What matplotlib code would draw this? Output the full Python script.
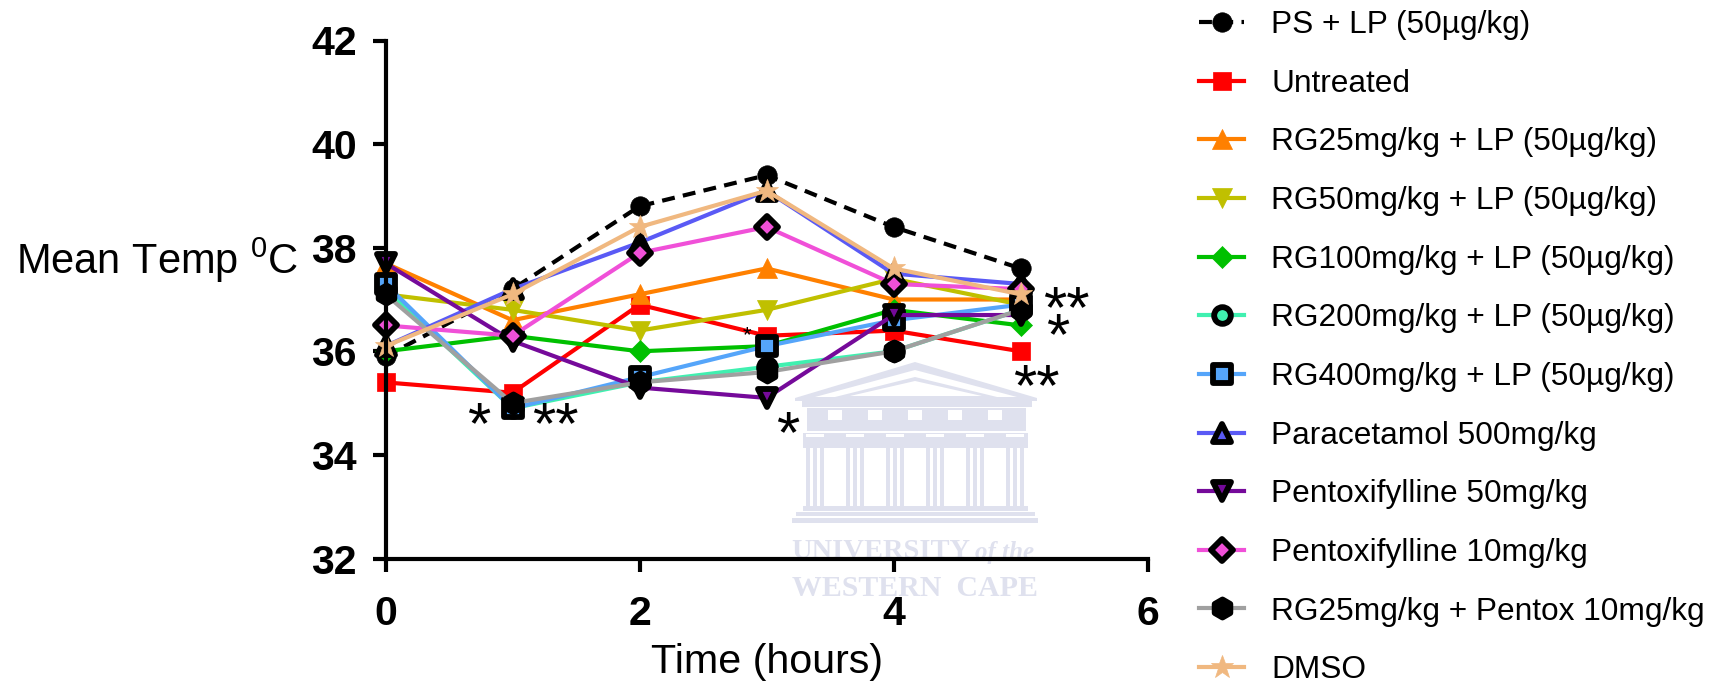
from matplotlib import pyplot as plt
from matplotlib.markers import MarkerStyle
from matplotlib.patches import Polygon, Rectangle

plt.rcParams['font.family'] = ['Liberation Sans', 'DejaVu Sans']
plt.rcParams['mathtext.fontset'] = 'custom'
plt.rcParams['mathtext.rm'] = 'Liberation Sans'

W, H = 1717, 688

hours = [0, 1, 2, 3, 4, 5]
ps_lp = [35.9, 37.2, 38.8, 39.4, 38.4, 37.6]
untreated = [35.4, 35.2, 36.9, 36.3, 36.4, 36.0]
rg25 = [37.7, 36.6, 37.1, 37.6, 37.0, 37.0]
rg50 = [37.1, 36.8, 36.4, 36.8, 37.4, 36.9]
rg100 = [36.0, 36.3, 36.0, 36.1, 36.8, 36.5]
rg200 = [37.2, 34.9, 35.4, 35.7, 36.0, 36.8]
rg400 = [37.3, 34.9, 35.5, 36.1, 36.6, 36.9]
paracetamol = [36.1, 37.2, 38.1, 39.1, 37.5, 37.3]
pentox50 = [37.7, 36.2, 35.3, 35.1, 36.7, 36.7]
pentox10 = [36.5, 36.3, 37.9, 38.4, 37.3, 37.2]
rg25_pentox = [37.1, 35.0, 35.4, 35.6, 36.0, 36.8]
dmso = [36.1, 37.1, 38.4, 39.1, 37.6, 37.1]

# label, values, line colour, marker, marker size, face, edge
series = [
    ("PS + LP (50\u00b5g/kg)", ps_lp, "black", "o", 14, "black", "black"),
    ("Untreated", untreated, "#ff0000", "s", 13, "#ff0000", "#ff0000"),
    ("RG25mg/kg + LP (50\u00b5g/kg)", rg25, "#ff8000", "^", 14, "#ff8000", "#ff8000"),
    ("RG50mg/kg + LP (50\u00b5g/kg)", rg50, "#c0c000", "v", 14, "#c0c000", "#c0c000"),
    ("RG100mg/kg + LP (50\u00b5g/kg)", rg100, "#00c000", "D", 11.5, "#00c000", "#00c000"),
    ("RG200mg/kg + LP (50\u00b5g/kg)", rg200, "#40f0b0", "o", 12, "#40f0b0", "black"),
    ("RG400mg/kg + LP (50\u00b5g/kg)", rg400, "#55a5fa", "s", 12.5, "#55a5fa", "black"),
    ("Paracetamol 500mg/kg", paracetamol, "#5a5af5", "^", 13, "#5a5af5", "black"),
    ("Pentoxifylline 50mg/kg", pentox50, "#750a9a", "v", 13, "#750a9a", "black"),
    ("Pentoxifylline 10mg/kg", pentox10, "#f050d8", "D", 11, "#f050d8", "black"),
    ("RG25mg/kg + Pentox 10mg/kg", rg25_pentox, "#a0a0a0", "h", 13, "black", "black"),
    ("DMSO", dmso, "#f0b880", "*", 17, "#f0b880", "#f0b880"),
]

# text, x, y in data units, font size
stars = [
    ("*", 0.73, 34.52, 43),
    ("**", 1.34, 34.52, 43),
    ("*", 2.85, 36.3, 16),
    ("*", 3.17, 34.35, 43),
    ("**", 5.36, 36.77, 43),
    ("*", 5.29, 36.24, 43),
    ("**", 5.12, 35.26, 43),
]

fig = plt.figure(figsize=(W / 100, H / 100), dpi=100)

# faint crest behind the plot, laid out in pixels
bg = fig.add_axes([0, 0, 1, 1], zorder=0)
bg.set_xlim(0, W)
bg.set_ylim(H, 0)
bg.axis("off")
crest = "#dfe1ee"


def box(x0, y0, x1, y1, color=crest):
    bg.add_patch(Rectangle((x0, y0), x1 - x0, y1 - y0, fc=color, ec="none"))


bg.add_patch(Polygon([(795, 398), (915, 362), (1037, 398), (1037, 401), (795, 401)], fc=crest, ec="none"))
bg.add_patch(Polygon([(815, 397), (915, 370), (1017, 397)], fc="white", ec="none"))
bg.add_patch(Polygon([(835, 397), (915, 377), (997, 397)], fc=crest, ec="none"))
bg.add_patch(Polygon([(850, 396), (915, 381), (982, 396)], fc="white", ec="none"))
box(802, 401, 1032, 407)
box(807, 408, 1026, 422)
for fx in [828, 868, 908, 948, 988]:
    box(fx, 410, fx + 14, 420, "white")
box(807, 422, 1026, 431)
box(803, 433, 1028, 448)
for cx in [815, 855, 895, 935, 975, 1015]:
    box(cx - 9, 434, cx + 9, 437, "white")
    box(cx - 9, 448, cx + 9, 506)
    box(cx - 5, 448, cx - 2, 506, "white")
    box(cx + 2, 448, cx + 5, 506, "white")
box(803, 506, 1028, 511)
box(796, 512, 1035, 516)
box(792, 518, 1038, 523)
bg.text(791, 552, "UNIVERSITY", family="Liberation Serif", weight="bold", fontsize=20.5,
        color=crest, va="center", ha="left")
bg.text(975, 553, "of the", family="Liberation Serif", style="italic", weight="bold", fontsize=18,
        color=crest, va="center", ha="left")
bg.text(915, 588, "WESTERN  CAPE", family="Liberation Serif", weight="bold", fontsize=21.5,
        color=crest, va="center", ha="center")

ax = fig.add_axes([385.5 / W, 1 - 558.5 / H, (1147.6 - 385.5) / W, (558.5 - 40.5) / H], zorder=1)
ax.patch.set_visible(False)

for label, values, color, marker, size, face, edge in series:
    ax.plot(hours, values, color=color, lw=3, marker=MarkerStyle(marker, joinstyle="round"), ms=size,
            mfc=face, mec=edge, mew=4.2 if edge == "black" and color != "black" else 0.5,
            label=label, clip_on=False,
            linestyle=(0, (3.1, 2)) if label.startswith("PS") else "-")

for text, x, y, size in stars:
    ax.text(x, y, text, fontsize=size, ha="center", va="center", color="black", clip_on=False)

ax.set_xlim(0, 6)
ax.set_ylim(32, 42)
ax.set_xticks([0, 2, 4, 6])
ax.set_yticks([32, 34, 36, 38, 40, 42])
ax.spines["top"].set_visible(False)
ax.spines["right"].set_visible(False)
ax.spines["left"].set_linewidth(3)
ax.spines["bottom"].set_linewidth(3)
ax.tick_params(length=9.5, width=3, labelsize=29.5)
ax.tick_params(axis="x", pad=17)
ax.tick_params(axis="y", pad=11)
for tick in ax.get_xticklabels() + ax.get_yticklabels():
    tick.set_fontweight("bold")

ax.set_xlabel("Time (hours)", fontsize=29.7, labelpad=7)
ax.set_ylabel("Mean Temp $^{0}$C", fontsize=30, rotation=0, ha="right", va="center", labelpad=10, y=0.575)

ax.legend(loc="upper left", bbox_to_anchor=(1199 / W, 1 - 10 / H), bbox_transform=fig.transFigure,
          frameon=False, fontsize=22.8, handlelength=1.43, handletextpad=0.85, labelspacing=0.905,
          borderpad=0, borderaxespad=0, numpoints=1)

fig.savefig("out.png", dpi=100)
